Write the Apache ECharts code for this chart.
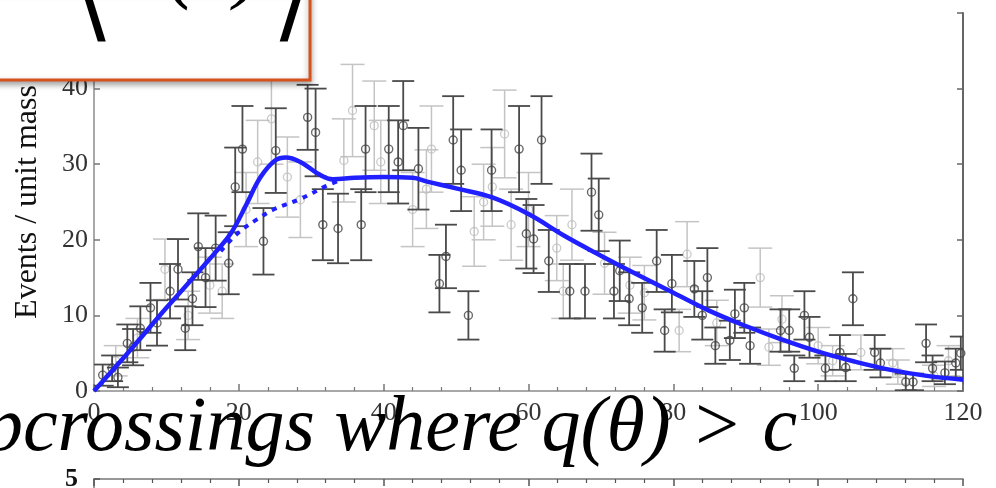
<!DOCTYPE html>
<html><head><meta charset="utf-8">
<script src="https://cdn.jsdelivr.net/npm/echarts/dist/echarts.min.js"></script>
<style>html,body{margin:0;padding:0;background:#fff}#c{width:996px;height:488px}</style>
</head><body><div id="c"></div>
<script>
// ---- data ----
const darkX = [1.2,2.5,3.3,4.6,5.4,6.4,7.8,8.7,10.5,11.6,12.6,13.6,14.4,15.4,16.8,18.6,19.5,20.5,23.4,25.1,29.5,30.6,31.6,33.7,36.9,37.5,40.7,42,42.7,44.8,47.7,48.6,49.6,50.7,51.7,54.9,58.7,59.7,60.7,61.8,62.8,65.7,67.8,68.7,69.7,71.8,72.6,73.9,75.7,77.7,78.8,79.8,82.9,84,84.7,85.8,87.8,88.5,89.8,90.6,94.8,96,96.7,98.1,98.8,101,103,103.8,104.8,107.8,108.6,112.1,113.1,114.9,115.8,117.5,119,119.7];
const darkY = [2.1,3.0,1.8,6.3,5.8,8.3,11,9,13.2,16.1,8.3,12.2,19.1,15,18.9,16.9,27,32,19.8,31.8,36.2,34.2,22,21.5,22,32,32,30.3,35.1,29.4,14.2,17.8,33.2,29.2,10,29.2,32,20.8,20.1,33.2,17.2,13.2,13.2,26.3,23.3,13.2,15.9,12.2,11,17.2,8,14.2,13.5,10,15,6,6.7,10.2,11,6,8,8,3,10,7.1,3,5.1,3.1,12.2,5.1,3.7,1.2,1.2,6.3,3,2.4,3.7,5];
const darkErr = [1.4,1.7,1.3,2.5,2.4,2.9,3.3,3,3.6,4,2.9,3.5,4.4,3.9,4.3,4.1,5.2,5.7,4.4,5.6,4.3,5.8,4.7,4.6,4.7,5.7,5.7,5.5,5.9,5.4,3.8,4.2,5.8,5.4,3.2,5.4,5.7,4.6,4.5,5.8,4.1,3.6,3.6,5.1,4.8,3.6,4,3.5,3.3,4.1,2.8,3.8,3.7,3.2,3.9,2.4,2.6,3.2,3.3,2.4,2.8,2.8,1.7,3.2,2.7,1.7,2.3,1.8,3.5,2.3,1.9,1.1,1.1,2.5,1.7,1.5,1.9,2.2];
const lightX = [3,6,9.8,13,16,17.7,21,22.6,24.5,26.7,28.5,34.5,35.7,38.7,39.6,44,45.9,46.6,52.5,53.8,55,56.7,57.6,60,63.9,64.8,66,70.5,74,76,80.8,81.9,86,92,93.2,95,100,102,105.9,110.3,111,116,118];
const lightY = [4,7,16.1,10,14,13.2,24,30.3,36,28.3,25.3,30.5,37.1,35.1,30.3,24,26.7,32,21.1,25,27,34,22,24,18.9,13.2,22,16.9,14,13,8,18.1,9,15,5.8,9.5,6,4,5.1,3.7,2.5,2,4];
const lightErr = [2,2.6,4,3.2,3.7,3.6,4.9,5.5,6,5.3,5,5.5,6.1,5.9,5.5,4.9,5.2,5.7,4.6,5,5.2,5.8,4.7,4.9,4.3,3.6,4.7,4.1,3.7,3.6,2.8,4.3,3,3.9,2.4,3.1,2.4,2,2.3,1.9,1.6,1.4,2];
const fitX = [0,5,10,15,17,19,21,23,25,26.5,28.5,31,33,36,40,44,46,50,55,60,65,70,75,80,85,90,95,100,105,110,115,120];
const fitY = [0,5.4,11,16.4,18.6,21,24.6,28.3,30.5,30.9,30.3,28.7,28,28.2,28.3,28.2,27.7,26.8,25.6,23.4,20.5,17.9,15.4,13,10.6,8.6,6.8,5.2,3.9,2.8,2,1.5];
const bkgX = [17.5,20,22.5,25,28.5,32,34];
const bkgY = [18.5,21,22.7,24.1,25.4,27.1,27.9];
const xTickMin = 0, xTickMax = 120, xTickStep = 20;
const yTickMin = 0, yTickMax = 50, yTickStep = 10;
const yLabel = 'Events / unit mass';
const boxPieces = ['+', '⟨', 'N(c)', '⟩'];
const bigText = 'upcrossings where q(θ) > c';
const lowerMax = 5;

// ---- helpers ----
const zip3 = (a,b,c) => a.map((v,i)=>[v,b[i],c[i]]);
const zip2 = (a,b) => a.map((v,i)=>[v,b[i]]);
function errRender(color, cap, lw){
  return function(params, api){
    const x = api.value(0), y = api.value(1), e = api.value(2);
    const t = api.coord([x, y+e]);
    const b = api.coord([x, Math.max(y-e, 0)]);
    const st = {stroke: color, lineWidth: lw};
    return {type:'group', children:[
      {type:'line', shape:{x1:t[0],y1:t[1],x2:b[0],y2:b[1]}, style:st},
      {type:'line', shape:{x1:t[0]-cap,y1:t[1],x2:t[0]+cap,y2:t[1]}, style:st},
      {type:'line', shape:{x1:b[0]-cap,y1:b[1],x2:b[0]+cap,y2:b[1]}, style:st}
    ]};
  };
}
const SERIF = '"Liberation Serif", "Times New Roman", serif';
const axisGray = '#8c8c8c';
const labelStyle = {fontFamily:SERIF, fontSize:26, color:'#333'};

const chart = echarts.init(document.getElementById('c'), null, {renderer:'canvas'});
chart.setOption({
  animation:false,
  backgroundColor:'#fff',
  grid:[
    {left:94, right:33, top:10, bottom:97},
    {left:94, right:33, top:479, height:300}
  ],
  xAxis:[
    {gridIndex:0, type:'value', min:xTickMin, max:xTickMax, interval:xTickStep, position:'bottom',
     axisLine:{show:true, onZero:false, lineStyle:{color:axisGray, width:1.5}},
     axisTick:{show:true, inside:true, length:7, lineStyle:{color:'#777', width:1.5}},
     minorTick:{show:true, splitNumber:5, length:4, lineStyle:{color:'#777', width:1.2}},
     splitLine:{show:false},
     axisLabel:Object.assign({margin:9}, labelStyle)},
    {gridIndex:1, type:'value', min:xTickMin, max:xTickMax, interval:xTickStep, position:'top',
     axisLine:{show:true, onZero:false, lineStyle:{color:'#777', width:1.5}},
     axisTick:{show:true, inside:true, length:7, lineStyle:{color:'#555', width:1.5}},
     minorTick:{show:true, splitNumber:5, length:4, lineStyle:{color:'#555', width:1.2}},
     splitLine:{show:false}, axisLabel:{show:false}}
  ],
  yAxis:[
    {gridIndex:0, type:'value', min:yTickMin, max:yTickMax, interval:yTickStep, position:'left',
     name:yLabel, nameLocation:'middle', nameGap:50, nameRotate:90,
     nameTextStyle:{fontFamily:SERIF, fontSize:32, color:'#111'},
     axisLine:{show:true, onZero:false, lineStyle:{color:axisGray, width:1.5}},
     axisTick:{show:true, inside:true, length:6, lineStyle:{color:'#777', width:1.5}},
     splitLine:{show:false},
     axisLabel:Object.assign({margin:6}, labelStyle)},
    {gridIndex:0, type:'value', min:yTickMin, max:yTickMax, interval:yTickStep, position:'right',
     axisLine:{show:true, onZero:false, lineStyle:{color:'#666', width:2}},
     axisTick:{show:true, inside:true, length:6, lineStyle:{color:'#666', width:1.5}},
     splitLine:{show:false}, axisLabel:{show:false}},
    {gridIndex:1, type:'value', min:0, max:lowerMax, interval:lowerMax, position:'left',
     axisLine:{show:true, onZero:false, lineStyle:{color:'#777', width:1.5}},
     axisTick:{show:true, inside:true, length:6, lineStyle:{color:'#555', width:1.5}},
     splitLine:{show:false},
     axisLabel:{fontFamily:SERIF, fontSize:26, color:'#111', margin:16, fontWeight:'bold'}}
  ],
  series:[
    {type:'custom', xAxisIndex:0, yAxisIndex:0, renderItem:errRender('#c4c4c4', 12, 1.5),
     data:zip3(lightX, lightY, lightErr), clip:true, z:1},
    {type:'scatter', xAxisIndex:0, yAxisIndex:0, data:zip2(lightX, lightY), symbol:'circle', symbolSize:8,
     itemStyle:{color:'rgba(255,255,255,0)', borderColor:'#bdbdbd', borderWidth:1.3}, z:2},
    {type:'custom', xAxisIndex:0, yAxisIndex:0, renderItem:errRender('#4a4a4a', 11, 1.8),
     data:zip3(darkX, darkY, darkErr), clip:true, z:3},
    {type:'scatter', xAxisIndex:0, yAxisIndex:0, data:zip2(darkX, darkY), symbol:'circle', symbolSize:8,
     itemStyle:{color:'rgba(255,255,255,0)', borderColor:'#444', borderWidth:1.4}, z:4},
    {type:'line', xAxisIndex:0, yAxisIndex:0, data:zip2(bkgX, bkgY), smooth:0.4, showSymbol:false,
     lineStyle:{color:'#1f1fff', width:4, type:[5,6]}, z:5},
    {type:'line', xAxisIndex:0, yAxisIndex:0, data:zip2(fitX, fitY), smooth:0.4, showSymbol:false,
     lineStyle:{color:'#1f1fff', width:4.5}, z:6}
  ],
  graphic:[
    {type:'rect', z:100, shape:{x:-10, y:-10, width:320, height:90},
     style:{fill:'#fff', stroke:'#d6521c', lineWidth:3, shadowBlur:6, shadowOffsetY:3, shadowColor:'rgba(0,0,0,0.35)'}},
    {type:'text', z:101, x:11, y:11, style:{text:boxPieces[0], font:'italic 86px '+SERIF, fill:'#000', verticalAlign:'bottom'}},
    {type:'text', z:101, x:76, y:4, style:{text:boxPieces[1], font:'96px "DejaVu Serif", serif', fill:'#000', verticalAlign:'middle'}},
    {type:'text', z:101, x:110, y:12, style:{text:boxPieces[2], font:'italic 86px '+SERIF, fill:'#000', verticalAlign:'bottom'}},
    {type:'text', z:101, x:272, y:4, style:{text:boxPieces[3], font:'96px "DejaVu Serif", serif', fill:'#000', verticalAlign:'middle'}},
    {type:'text', z:100, x:797, y:468, style:{text:bigText, font:'italic 78px '+SERIF, fill:'#000', align:'right', verticalAlign:'bottom'}}
  ]
});
</script></body></html>
